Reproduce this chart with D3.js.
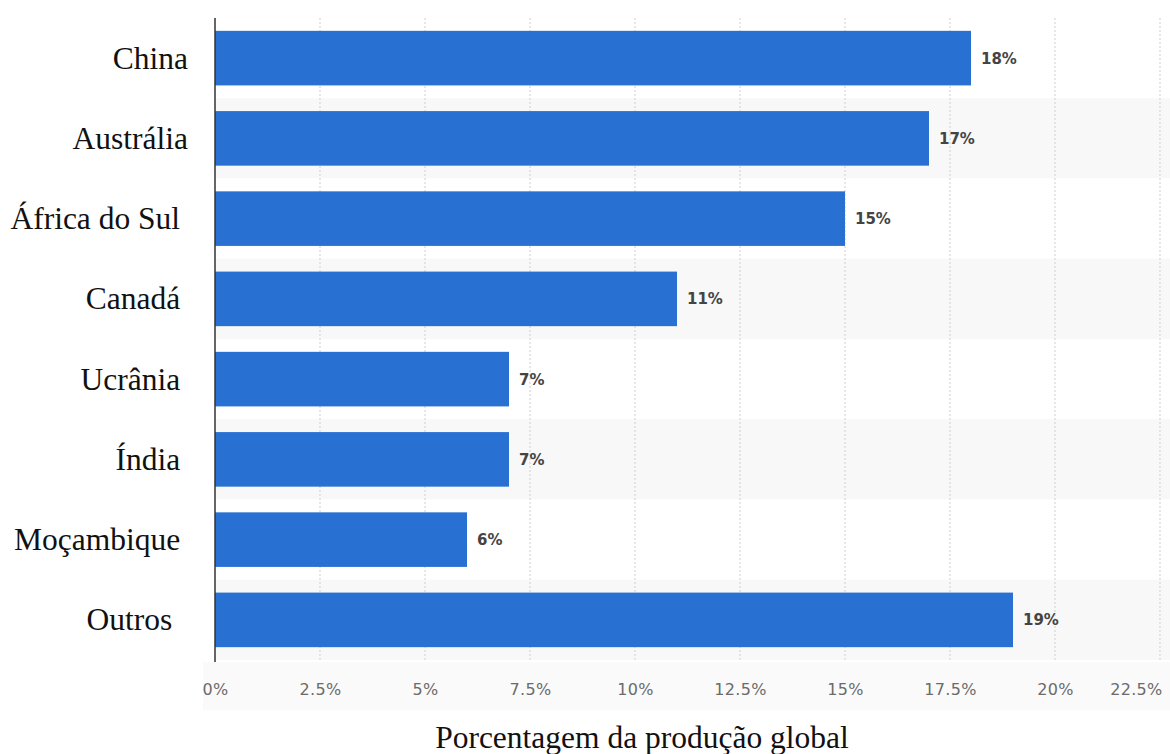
<!DOCTYPE html>
<html>
<head>
<meta charset="utf-8">
<script src="https://cdn.jsdelivr.net/npm/d3@7"></script>
<style>
  html, body { margin: 0; padding: 0; background: #ffffff; }
  svg { display: block; }
  .cat { white-space: pre; }
</style>
</head>
<body>
<svg id="chart" width="1170" height="754"></svg>
<script>
// Share of global production by country (%)
const categories = ["China", "Austrália", "África do Sul\u00A0", "Canadá\u00A0", "Ucrânia\u00A0", "Índia\u00A0", "Moçambique\u00A0", "Outros\u00A0\u00A0"];
const values = [18, 17, 15, 11, 7, 7, 6, 19];
const tickValues = [0, 2.5, 5, 7.5, 10, 12.5, 15, 17.5, 20, 22.5];
const tickLabels = ["0%", "2.5%", "5%", "7.5%", "10%", "12.5%", "15%", "17.5%", "20%", "22.5%"];
const axisTitle = "Porcentagem da produção global";

const width = 1170, height = 754;
const margin = { top: 18, right: 10, bottom: 94, left: 215 };
const plotBottom = height - margin.bottom;

const svg = d3.select("#chart");

const x = d3.scaleLinear().domain([0, 22.5]).range([margin.left, 1160]);
const y = d3.scaleBand()
  .domain(categories)
  .range([margin.top, plotBottom])
  .paddingInner(0.32)
  .paddingOuter(0.16);

const step = y.step();
const half = y.paddingInner() * step / 2;

// light strip behind the tick labels
svg.append("rect")
  .attr("x", 203).attr("y", plotBottom + 2)
  .attr("width", width - 203).attr("height", 48)
  .attr("fill", "#fafafa");

// alternating row bands
svg.append("g").selectAll("rect")
  .data(categories)
  .join("rect")
  .attr("x", margin.left)
  .attr("y", d => y(d) - half)
  .attr("width", width - margin.left)
  .attr("height", step)
  .attr("fill", (d, i) => i % 2 ? "#f8f8f8" : "#ffffff");

// dotted vertical grid lines
svg.append("g").selectAll("line")
  .data(tickValues.filter(v => v > 0))
  .join("line")
  .attr("x1", d => x(d)).attr("x2", d => x(d))
  .attr("y1", margin.top).attr("y2", plotBottom + 2)
  .attr("stroke", "#cfcfcf")
  .attr("stroke-width", 1)
  .attr("stroke-dasharray", "2,2");

// bars
svg.append("g").selectAll("rect")
  .data(values)
  .join("rect")
  .attr("x", x(0))
  .attr("y", (d, i) => y(categories[i]))
  .attr("width", d => x(d) - x(0))
  .attr("height", y.bandwidth())
  .attr("fill", "#2870d2");

// value labels
svg.append("g").selectAll("text")
  .data(values)
  .join("text")
  .attr("x", d => x(d) + 10)
  .attr("y", (d, i) => y(categories[i]) + y.bandwidth() / 2)
  .attr("dy", "0.36em")
  .attr("font-family", "'DejaVu Sans', Verdana, sans-serif")
  .attr("font-weight", "bold")
  .attr("font-size", 15)
  .attr("fill", "#444444")
  .text(d => d + "%");

// bottom axis
const xAxis = d3.axisBottom(x)
  .tickValues(tickValues)
  .tickFormat((d, i) => tickLabels[i])
  .tickSize(0)
  .tickPadding(0);

const gx = svg.append("g")
  .attr("transform", `translate(0,${plotBottom + 35})`)
  .call(xAxis);
gx.select(".domain").remove();
gx.selectAll("text")
  .attr("font-family", "'DejaVu Sans', Verdana, sans-serif")
  .attr("font-size", 16)
  .attr("letter-spacing", 0.3)
  .attr("fill", "#6b6b6b")
  .attr("dy", 0);
// keep the last tick label inside the frame
gx.selectAll(".tick").filter((d, i, n) => i === n.length - 1)
  .select("text")
  .attr("text-anchor", "end")
  .attr("x", 2);

// left axis with category names
const yAxis = d3.axisLeft(y).tickSize(0).tickPadding(0);
const gy = svg.append("g")
  .attr("transform", `translate(188,0)`)
  .call(yAxis);
gy.select(".domain").remove();
gy.selectAll("text")
  .attr("class", "cat")
  .attr("font-family", "'Liberation Serif', 'Times New Roman', serif")
  .attr("font-size", 31.5)
  .attr("fill", "#111111")
  .attr("dy", "0.33em");

// axis baseline on the left
svg.append("line")
  .attr("x1", margin.left).attr("x2", margin.left)
  .attr("y1", margin.top).attr("y2", plotBottom + 2)
  .attr("stroke", "#333333")
  .attr("stroke-width", 1.5);

// axis title
svg.append("text")
  .attr("x", 642)
  .attr("y", 748)
  .attr("text-anchor", "middle")
  .attr("font-family", "'Liberation Serif', 'Times New Roman', serif")
  .attr("font-size", 31.5)
  .attr("fill", "#111111")
  .text(axisTitle);
</script>
</body>
</html>
